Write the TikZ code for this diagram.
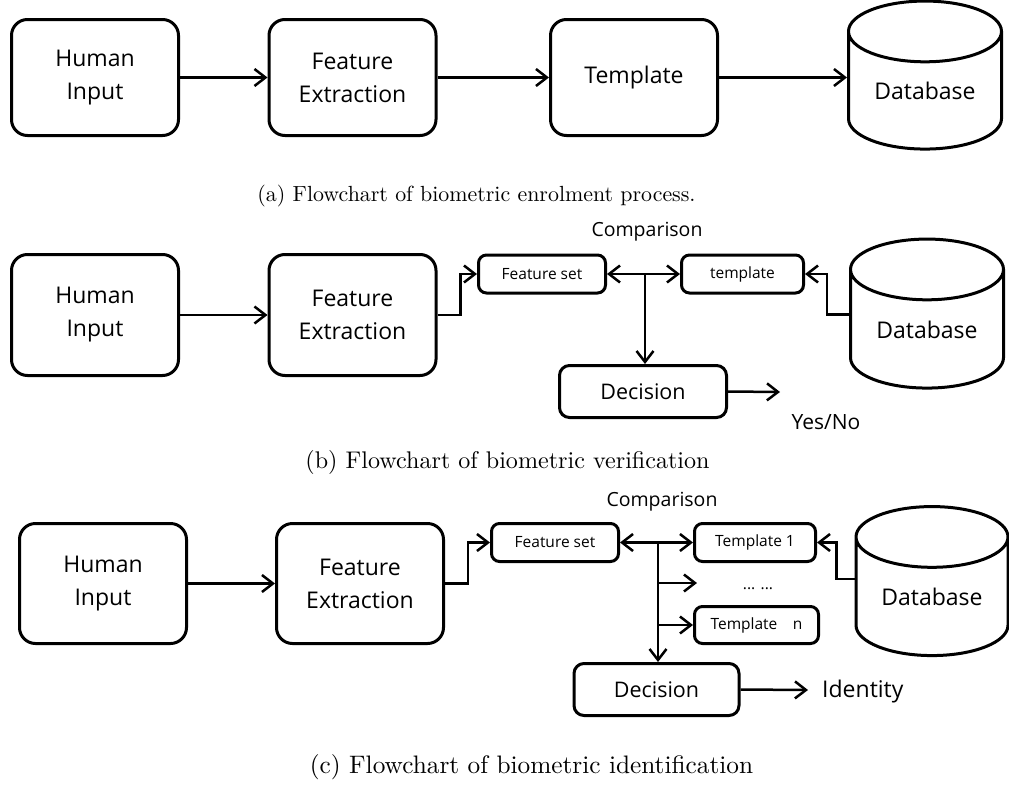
\documentclass[tikz,border=0pt]{standalone}
\usepackage{fontspec}
\setsansfont{Open Sans}
\newfontfamily\capfont{lmroman10-regular}[Extension=.otf]
\usetikzlibrary{shapes.geometric, positioning, arrows.meta, calc}

\tikzset{
	box/.style={draw, line width=3pt, rounded corners=16pt, minimum width=167pt, minimum height=116pt, inner sep=0pt, align=center, font=\sffamily\fontsize{23}{33}\selectfont},
	smallbox/.style={draw, line width=3pt, rounded corners=8pt, minimum width=127pt, minimum height=38pt, inner sep=0pt, font=\sffamily\fontsize{15.5}{18}\selectfont},
	decbox/.style={draw, line width=3pt, rounded corners=10pt, minimum width=165pt, minimum height=52pt, inner sep=0pt, font=\sffamily\fontsize{21.5}{26}\selectfont},
	dbase/.style={draw, line width=3pt, cylinder, shape border rotate=90, aspect=0.6, minimum width=153pt, minimum height=144pt, inner sep=0pt, font=\sffamily\fontsize{23}{28}\selectfont},
	txt/.style={inner sep=0pt, font=\sffamily\fontsize{#1}{24}\selectfont},
	caption/.style={inner sep=0pt, font=\capfont\fontsize{#1}{28}\selectfont},
	arr/.style={line width=2.5pt, -{Straight Barb[length=11pt, width=17pt, line width=2.5pt]}},
	darr/.style={line width=2.5pt, {Straight Barb[length=11pt, width=17pt, line width=2.5pt]}-{Straight Barb[length=11pt, width=17pt, line width=2.5pt]}},
}

\begin{document}
\begin{tikzpicture}[x=1pt, y=-1pt]
	\useasboundingbox (0,0) rectangle (1009,790);

	% (a) enrolment
	\node[box] (humanA) at (95,77.5) {Human\\Input};
	\node[box] (featA) at (352.5,77.5) {Feature\\Extraction};
	\node[box] (tempA) at (634,77.5) {Template};
	\node[dbase, minimum height=148pt] (dbA) at (925,91) {Database};
	\draw[arr] (humanA) -- (featA);
	\draw[arr] (featA) -- (tempA);
	\draw[arr] (tempA.east) -- (tempA.east -| dbA.west);
	\node[caption=21.9] (capA) at (476.5,196) {(a) Flowchart of biometric enrolment process.};

	% (b) verification
	\node[box, minimum height=121pt] (humanB) at (95,315) {Human\\Input};
	\node[box, minimum height=121pt] (featB) at (352.5,315) {Feature\\Extraction};
	\node[smallbox] (fsetB) at (542,274) {Feature set};
	\node[smallbox, minimum width=122pt] (tempB) at (742.5,274) {template};
	\node[txt=19.5] (compB) at (647,232) {Comparison};
	\node[decbox, minimum width=167pt] (decB) at (643,391.5) {Decision};
	\node[txt=21] (yesB) at (826,422) {Yes/No};
	\node[dbase, minimum height=149pt] (dbB) at (927,329.5) {Database};
	\coordinate (jB) at (645,274);
	\coordinate (outB) at (780,392);
	\draw[arr] (humanB.east) -- (featB.west);
	\draw[arr] (featB.east) -- ++(23,0) |- (fsetB.west);
	\draw[darr] (fsetB) -- (tempB);
	\draw[arr] (jB) -- (jB |- decB.north);
	\draw[arr] (dbB.169) -- ++(-22,0) |- (tempB.east);
	\draw[arr] (decB.east) -- (outB);
	\node[caption=24.1] (capB) at (507.5,462) {(b) Flowchart of biometric verification};

	% (c) identification
	\node[box, minimum height=120pt] (humanC) at (103,583.5) {Human\\Input};
	\node[box, minimum height=120pt] (featC) at (360,583.5) {Feature\\Extraction};
	\node[smallbox] (fsetC) at (555,542.5) {Feature set};
	\node[smallbox, minimum width=121pt] (temp1C) at (755,542.5) {Template 1};
	\node[smallbox, minimum width=124pt, minimum height=37pt] (tempnC) at (756.5,625) {Template\quad n};
	\node[txt=15.5, anchor=base] (dotsC) at (758,589) {... ...};
	\node[txt=19.5] (compC) at (662,502) {Comparison};
	\node[decbox] (decC) at (656.5,689.5) {Decision};
	\node[txt=23, anchor=west] (idC) at (822,692) {Identity};
	\node[dbase, minimum height=149pt, minimum width=152pt] (dbC) at (932,597) {Database};
	\coordinate (jC) at (658,542.5);
	\coordinate (dotsIn) at (697,583);
	\coordinate (outC) at (808,690);
	\draw[arr] (humanC.east) -- (featC.west);
	\draw[arr] (featC.east) -- ++(23,0) |- (fsetC.west);
	\draw[darr] (fsetC) -- (temp1C);
	\draw[arr] (jC) -- (jC |- decC.north);
	\draw[arr] (jC |- dotsIn) -- (dotsIn);
	\draw[arr] (jC |- tempnC.west) -- (tempnC.west);
	\draw[arr] (dbC.167) -- ++(-18,0) |- (temp1C.east);
	\draw[arr] (decC.east) -- (outC);
	\node[caption=25.3] (capC) at (531.5,767) {(c) Flowchart of biometric identification};
\end{tikzpicture}
\end{document}
